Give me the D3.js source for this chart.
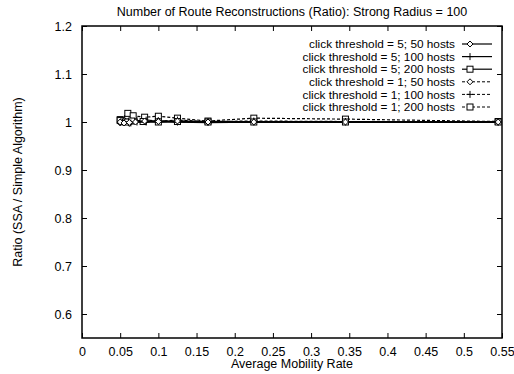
<!DOCTYPE html>
<html><head><meta charset="utf-8">
<script src="https://cdn.jsdelivr.net/npm/d3@7/dist/d3.min.js"></script>
<style>body{margin:0;background:#fff}svg{display:block;font-family:"Liberation Sans",Arial,sans-serif}</style>
</head><body><svg id="c" width="514" height="374"></svg>
<script>
const xTicks = [0,0.05,0.1,0.15,0.2,0.25,0.3,0.35,0.4,0.45,0.5,0.55];
const yTicks = [0.6,0.7,0.8,0.9,1,1.1,1.2];
const seriesNames = ["click threshold = 5; 50 hosts","click threshold = 5; 100 hosts","click threshold = 5; 200 hosts","click threshold = 1; 50 hosts","click threshold = 1; 100 hosts","click threshold = 1; 200 hosts"];
const seriesMarkers = ["diamond","plus","square","diamond","plus","square"];
const seriesDashed = [false,false,false,true,true,true];
const x5_50  = [0.05,0.055,0.062,0.07,0.082,0.1,0.125,0.165,0.225,0.345,0.545];
const y5_50  = [1.0,0.998,0.999,1.0,1.002,1.001,1.002,1.0,1.0,1.0,1.0];
const x5_100 = [0.051,0.056,0.064,0.072,0.084,0.1,0.125,0.165,0.225,0.345,0.545];
const y5_100 = [1.001,1.0,0.998,1.0,1.0,1.001,1.0,0.999,1.0,1.0,1.0];
const x5_200 = [0.05,0.057,0.065,0.08,0.1,0.125,0.165,0.225,0.345,0.545];
const y5_200 = [1.003,1.0,1.002,1.001,1.0,1.001,1.0,1.0,1.0,1.0];
const x1_50  = [0.05,0.055,0.062,0.07,0.082,0.1,0.125,0.165,0.225,0.345,0.545];
const y1_50  = [0.998,1.004,0.997,1.002,1.0,1.003,1.0,1.0,1.001,1.0,1.0];
const x1_100 = [0.051,0.056,0.064,0.072,0.084,0.1,0.125,0.165,0.225,0.345,0.545];
const y1_100 = [1.0,1.006,1.002,1.003,1.004,1.002,1.004,1.001,1.002,1.001,1.0];
const x1_200 = [0.05,0.06,0.067,0.082,0.1,0.125,0.165,0.225,0.345,0.545];
const y1_200 = [1.005,1.018,1.013,1.01,1.012,1.008,1.002,1.008,1.006,1.001];
const seriesX = [x5_50,x5_100,x5_200,x1_50,x1_100,x1_200];
const seriesY = [y5_50,y5_100,y5_200,y1_50,y1_100,y1_200];

const L=82,R=502,T=26,B=338;
const svg=d3.select("#c");
const x=d3.scaleLinear().domain([0,0.55]).range([L,R]);
const y=d3.scaleLinear().domain([0.55,1.2]).range([B,T]);
const fs=12.5;

const g=svg.append("g");
const tl=5;
g.append("g").attr("transform",`translate(0,${B})`).call(d3.axisBottom(x).tickValues(xTicks).tickSize(-tl).tickPadding(9).tickFormat(d=>String(d)))
 .call(a=>{a.select(".domain").remove();a.selectAll("text").attr("font-size",fs).attr("font-family","Liberation Sans, Arial").attr("fill","#000");});
g.append("g").attr("transform",`translate(0,${T})`).call(d3.axisTop(x).tickValues(xTicks).tickSize(-tl).tickFormat(""))
 .call(a=>a.select(".domain").remove());
g.append("g").attr("transform",`translate(${L},0)`).call(d3.axisLeft(y).tickValues(yTicks).tickSize(-tl).tickPadding(10).tickFormat(d=>String(d)))
 .call(a=>{a.select(".domain").remove();a.selectAll("text").attr("font-size",fs).attr("font-family","Liberation Sans, Arial").attr("fill","#000");});
g.append("g").attr("transform",`translate(${R},0)`).call(d3.axisRight(y).tickValues(yTicks).tickSize(-tl).tickFormat(""))
 .call(a=>a.select(".domain").remove());
g.selectAll(".tick line").attr("stroke","#000").attr("stroke-width",1);

svg.append("rect").attr("x",L).attr("y",T).attr("width",R-L).attr("height",B-T).attr("fill","none").attr("stroke","#000").attr("stroke-width",1.5);

function marker(sel,type,cx,cy){
  if(type==="diamond"){
    sel.append("path").attr("d",`M${cx},${cy-3}L${cx+3},${cy}L${cx},${cy+3}L${cx-3},${cy}Z`).attr("fill","#fff").attr("stroke","#000").attr("stroke-width",1);
  } else if(type==="plus"){
    sel.append("path").attr("d",`M${cx-3.5},${cy}H${cx+3.5}M${cx},${cy-3.5}V${cy+3.5}`).attr("stroke","#000").attr("stroke-width",1);
  } else {
    sel.append("rect").attr("x",cx-3).attr("y",cy-3).attr("width",6).attr("height",6).attr("fill","#fff").attr("stroke","#000").attr("stroke-width",1);
  }
}

const line=d3.line().x(d=>x(d[0])).y(d=>y(d[1]));
[5,4,3,2,1,0].forEach(i=>{
  const pts=seriesX[i].map((v,j)=>[v,seriesY[i][j]]);
  const gs=svg.append("g");
  gs.append("path").attr("d",line(pts)).attr("fill","none").attr("stroke","#000").attr("stroke-width",seriesDashed[i]?1.2:1.5)
    .attr("stroke-dasharray",seriesDashed[i]?"3,2":null);
  pts.forEach(p=>marker(gs,seriesMarkers[i],x(p[0]),y(p[1])));
});

seriesNames.forEach((n,i)=>{
  const ly=44+i*12.6;
  svg.append("text").attr("x",455).attr("y",ly).attr("dy","0.35em").attr("text-anchor","end").attr("font-size",11.8).text(n);
  svg.append("line").attr("x1",462).attr("x2",492).attr("y1",ly).attr("y2",ly).attr("stroke","#000").attr("stroke-width",seriesDashed[i]?1:1.2).attr("stroke-dasharray",seriesDashed[i]?"3,2":null);
  marker(svg,seriesMarkers[i],470,ly);
});

svg.append("text").attr("x",292).attr("y",12).attr("dy","0.35em").attr("text-anchor","middle").attr("font-size",fs).text("Number of Route Reconstructions (Ratio): Strong Radius = 100");
svg.append("text").attr("x",292).attr("y",364).attr("dy","0.35em").attr("text-anchor","middle").attr("font-size",fs).text("Average Mobility Rate");
svg.append("text").attr("transform","translate(18,182) rotate(-90)").attr("dy","0.35em").attr("text-anchor","middle").attr("font-size",fs).text("Ratio (SSA / Simple Algorithm)");
</script></body></html>
